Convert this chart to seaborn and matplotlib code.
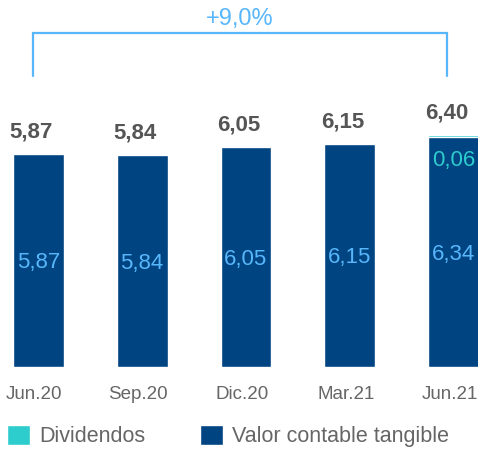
"""Valor contable tangible por acción: barras apiladas con dividendos."""

import matplotlib
matplotlib.use("Agg")
import matplotlib.pyplot as plt
import matplotlib.transforms as mtransforms
import seaborn as sns
import pandas as pd
from matplotlib.patches import Patch

# ---------------------------------------------------------------------------
# Data
# ---------------------------------------------------------------------------
PERIODS = ["Jun.20", "Sep.20", "Dic.20", "Mar.21", "Jun.21"]
VALOR = [5.87, 5.84, 6.05, 6.15, 6.34]
DIVIDENDOS = [0.0, 0.0, 0.0, 0.0, 0.06]
TOTALES = [5.87, 5.84, 6.05, 6.15, 6.40]
GROWTH_LABEL = "+9,0%"

NAVY = "#004481"
CYAN = "#2DCCCD"
LIGHT = "#58B6FA"
GREY = "#666666"
DARK_GREY = "#555555"


def fmt(v):
    return f"{v:.2f}".replace(".", ",")


sns.set_theme(style="white")
plt.rcParams["font.family"] = ["Liberation Sans", "DejaVu Sans"]

df = pd.DataFrame({"periodo": PERIODS, "valor": VALOR,
                   "dividendos": DIVIDENDOS, "total": TOTALES})

fig = plt.figure(figsize=(4.78, 4.5), dpi=100)
ax = fig.add_axes([0, 83 / 450, 1, 367 / 450])

# stacked: total (cyan) behind, tangible value (navy) in front
sns.barplot(data=df, x="periodo", y="total", color=CYAN, width=0.49,
            saturation=1, ax=ax)
sns.barplot(data=df, x="periodo", y="valor", color=NAVY, width=0.49,
            saturation=1, ax=ax)

ax.set_xlim(-0.37, 4.236)
ax.set_ylim(0, 10.11)
sns.despine(ax=ax, left=True, bottom=True)
ax.set_yticks([])
ax.set_xlabel("")
ax.set_ylabel("")
ax.tick_params(axis="x", length=0, pad=14, labelsize=13.5, labelcolor=GREY)
shift = mtransforms.ScaledTranslation(-4 / 100, 0, fig.dpi_scale_trans)
for lbl in ax.get_xticklabels():
    lbl.set_transform(lbl.get_transform() + shift)

for i, (v, d, t) in enumerate(zip(VALOR, DIVIDENDOS, TOTALES)):
    ax.annotate(fmt(t), (i, t), xytext=(-7, 22), textcoords="offset pixels",
                ha="center", va="center", fontsize=16, fontweight="bold",
                color=DARK_GREY)
    ax.text(i, v / 2 - 0.07, fmt(v), ha="center", va="center", fontsize=16,
            color=LIGHT)
    if d > 0:
        ax.annotate(fmt(d), (i, t), xytext=(0, -26), textcoords="offset pixels",
                    ha="center", va="center", fontsize=16, color=CYAN)

# growth bracket from first to last period
x0, x1 = 0 - 0.055, len(PERIODS) - 1 - 0.06
y_top, y_low = 9.2, 8.02
ax.plot([x0, x0, x1, x1], [y_low, y_top, y_top, y_low], color=LIGHT,
        lw=1.6, clip_on=False, solid_joinstyle="miter")
ax.text((x0 + x1) / 2, y_top + 0.38, GROWTH_LABEL, ha="center",
        va="center", fontsize=17, color=LIGHT)

handles = [Patch(facecolor=CYAN, label="Dividendos"),
           Patch(facecolor=NAVY, label="Valor contable tangible")]
fig.legend(handles=handles, loc="lower left", bbox_to_anchor=(7 / 478, 3 / 450),
           ncol=2, frameon=False, fontsize=15.5, handlelength=1.07,
           handleheight=1.07, handletextpad=0.45, columnspacing=2.5,
           borderpad=0, borderaxespad=0, labelcolor=GREY)

fig.savefig("out.png", dpi=100)
